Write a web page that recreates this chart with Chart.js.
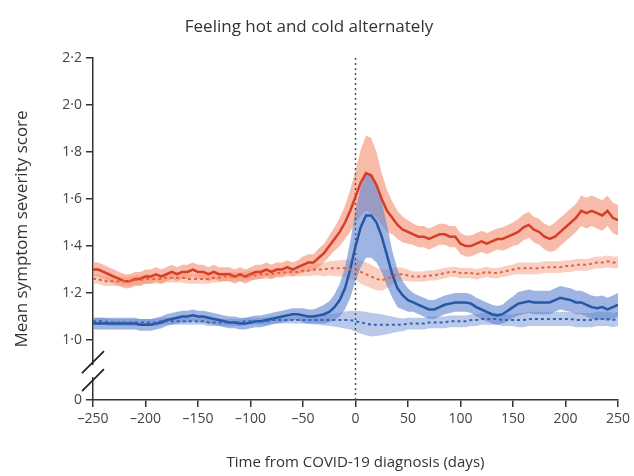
<!DOCTYPE html>
<html lang="en">
<head>
<meta charset="UTF-8">
<title>Feeling hot and cold alternately</title>
<script src="https://cdn.jsdelivr.net/npm/chart.js"></script>
<style>
    body { margin: 0; background: #ffffff; }
    #chart { display: block; }
</style>
</head>
<body>
<canvas id="chart" width="634" height="476"></canvas>
<script>
// days from COVID-19 diagnosis
const days = [
    -250, -245, -240, -235, -230, -225, -220, -215, -210, -205,
    -200, -195, -190, -185, -180, -175, -170, -165, -160, -155,
    -150, -145, -140, -135, -130, -125, -120, -115, -110, -105,
    -100, -95, -90, -85, -80, -75, -70, -65, -60, -55,
    -50, -45, -40, -35, -30, -25, -20, -15, -10, -5,
    0, 5, 10, 15, 20, 25, 30, 35, 40, 45, 50,
    55, 60, 65, 70, 75, 80, 85, 90, 95, 100,
    105, 110, 115, 120, 125, 130, 135, 140, 145, 150,
    155, 160, 165, 170, 175, 180, 185, 190, 195, 200,
    205, 210, 215, 220, 225, 230, 235, 240, 245, 250
];

// red solid line + half width of its band
const redSolid = [
    1.30, 1.30, 1.29, 1.28, 1.27, 1.26, 1.25, 1.25, 1.26, 1.26,
    1.27, 1.27, 1.28, 1.27, 1.28, 1.29, 1.28, 1.29, 1.29, 1.30,
    1.29, 1.29, 1.28, 1.29, 1.28, 1.28, 1.28, 1.27, 1.28, 1.27,
    1.28, 1.29, 1.29, 1.30, 1.29, 1.30, 1.30, 1.31, 1.30, 1.31,
    1.32, 1.33, 1.33, 1.35, 1.37, 1.40, 1.43, 1.46, 1.50, 1.55,
    1.61, 1.67, 1.71, 1.70, 1.66, 1.60, 1.55, 1.52, 1.49, 1.47, 1.46,
    1.45, 1.44, 1.44, 1.43, 1.44, 1.45, 1.45, 1.44, 1.44, 1.41,
    1.40, 1.40, 1.41, 1.42, 1.41, 1.42, 1.43, 1.43, 1.44, 1.45,
    1.46, 1.48, 1.49, 1.47, 1.46, 1.44, 1.43, 1.44, 1.46, 1.48,
    1.50, 1.52, 1.55, 1.54, 1.55, 1.54, 1.53, 1.55, 1.52, 1.51
];
const redSolidErr = [
    0.03, 0.03, 0.03, 0.03, 0.03, 0.03, 0.03, 0.03, 0.03, 0.03,
    0.03, 0.03, 0.03, 0.03, 0.03, 0.03, 0.03, 0.03, 0.03, 0.03,
    0.03, 0.03, 0.03, 0.03, 0.03, 0.03, 0.03, 0.03, 0.03, 0.03,
    0.03, 0.03, 0.03, 0.03, 0.03, 0.03, 0.03, 0.03, 0.03, 0.03,
    0.035, 0.035, 0.035, 0.04, 0.04, 0.045, 0.05, 0.06, 0.07, 0.09,
    0.11, 0.14, 0.16, 0.16, 0.14, 0.11, 0.09, 0.07, 0.06, 0.055, 0.05,
    0.045, 0.045, 0.045, 0.045, 0.045, 0.045, 0.045, 0.045, 0.045, 0.045,
    0.045, 0.045, 0.045, 0.045, 0.045, 0.045, 0.045, 0.05, 0.05, 0.05,
    0.055, 0.055, 0.055, 0.055, 0.055, 0.055, 0.055, 0.06, 0.06, 0.06,
    0.06, 0.06, 0.065, 0.065, 0.065, 0.065, 0.065, 0.065, 0.065, 0.065
];

// red dashed line + band
const redDashed = [
    1.26, 1.26, 1.25, 1.25, 1.25, 1.25, 1.25, 1.25, 1.255, 1.255,
    1.26, 1.26, 1.26, 1.26, 1.265, 1.265, 1.265, 1.265, 1.26, 1.26,
    1.26, 1.26, 1.26, 1.265, 1.265, 1.27, 1.27, 1.27, 1.27, 1.27,
    1.275, 1.275, 1.28, 1.28, 1.28, 1.285, 1.285, 1.29, 1.29, 1.29,
    1.295, 1.295, 1.30, 1.30, 1.30, 1.305, 1.305, 1.305, 1.305, 1.30,
    1.30, 1.29, 1.28, 1.27, 1.26, 1.255, 1.26, 1.27, 1.28, 1.28, 1.275,
    1.27, 1.27, 1.27, 1.275, 1.275, 1.28, 1.285, 1.29, 1.29, 1.285,
    1.285, 1.285, 1.28, 1.285, 1.29, 1.285, 1.285, 1.29, 1.295, 1.30,
    1.305, 1.305, 1.305, 1.305, 1.305, 1.31, 1.31, 1.31, 1.31, 1.315,
    1.315, 1.32, 1.32, 1.32, 1.325, 1.33, 1.33, 1.335, 1.33, 1.33
];
const redDashedErr = [
    0.02, 0.02, 0.02, 0.02, 0.02, 0.02, 0.02, 0.02, 0.02, 0.02,
    0.02, 0.02, 0.02, 0.02, 0.02, 0.02, 0.02, 0.02, 0.02, 0.02,
    0.02, 0.02, 0.02, 0.02, 0.02, 0.02, 0.02, 0.02, 0.02, 0.02,
    0.02, 0.02, 0.02, 0.02, 0.02, 0.02, 0.02, 0.02, 0.02, 0.02,
    0.022, 0.022, 0.025, 0.025, 0.028, 0.03, 0.032, 0.035, 0.038, 0.042,
    0.045, 0.05, 0.05, 0.05, 0.048, 0.045, 0.04, 0.035, 0.03, 0.028, 0.025,
    0.022, 0.022, 0.022, 0.022, 0.022, 0.022, 0.022, 0.022, 0.022, 0.022,
    0.022, 0.022, 0.022, 0.022, 0.022, 0.022, 0.022, 0.022, 0.022, 0.022,
    0.025, 0.025, 0.025, 0.025, 0.025, 0.025, 0.025, 0.025, 0.025, 0.025,
    0.025, 0.025, 0.025, 0.025, 0.025, 0.025, 0.025, 0.025, 0.025, 0.025
];

// blue solid line + band
const blueSolid = [
    1.07, 1.07, 1.07, 1.07, 1.07, 1.07, 1.07, 1.07, 1.07, 1.065,
    1.065, 1.065, 1.07, 1.075, 1.085, 1.09, 1.095, 1.10, 1.10, 1.105,
    1.10, 1.10, 1.095, 1.09, 1.085, 1.08, 1.075, 1.075, 1.07, 1.07,
    1.075, 1.08, 1.08, 1.085, 1.09, 1.095, 1.10, 1.105, 1.11, 1.11,
    1.105, 1.10, 1.10, 1.105, 1.11, 1.12, 1.14, 1.17, 1.22, 1.30,
    1.40, 1.48, 1.53, 1.53, 1.50, 1.44, 1.36, 1.28, 1.22, 1.19, 1.17,
    1.16, 1.15, 1.14, 1.13, 1.13, 1.14, 1.15, 1.155, 1.16, 1.16,
    1.16, 1.155, 1.14, 1.13, 1.12, 1.11, 1.105, 1.11, 1.125, 1.14,
    1.155, 1.16, 1.165, 1.16, 1.16, 1.16, 1.16, 1.17, 1.18, 1.175,
    1.17, 1.16, 1.16, 1.15, 1.14, 1.135, 1.14, 1.13, 1.14, 1.15
];
const blueSolidErr = [
    0.025, 0.025, 0.025, 0.025, 0.025, 0.025, 0.025, 0.025, 0.025, 0.025,
    0.025, 0.025, 0.025, 0.025, 0.025, 0.025, 0.025, 0.025, 0.025, 0.025,
    0.025, 0.025, 0.025, 0.025, 0.025, 0.025, 0.025, 0.025, 0.025, 0.025,
    0.025, 0.025, 0.025, 0.025, 0.025, 0.025, 0.025, 0.025, 0.025, 0.025,
    0.03, 0.03, 0.03, 0.035, 0.04, 0.045, 0.055, 0.07, 0.09, 0.12,
    0.15, 0.17, 0.18, 0.18, 0.17, 0.15, 0.13, 0.10, 0.08, 0.06, 0.05,
    0.04, 0.04, 0.04, 0.04, 0.04, 0.04, 0.04, 0.04, 0.04, 0.04,
    0.04, 0.04, 0.04, 0.04, 0.04, 0.04, 0.04, 0.04, 0.045, 0.045,
    0.05, 0.05, 0.05, 0.05, 0.05, 0.05, 0.05, 0.05, 0.05, 0.05,
    0.05, 0.05, 0.05, 0.05, 0.05, 0.05, 0.05, 0.05, 0.05, 0.05
];

// blue dashed line + band
const blueDashed = [
    1.08, 1.08, 1.08, 1.075, 1.075, 1.075, 1.075, 1.075, 1.075, 1.075,
    1.075, 1.075, 1.075, 1.08, 1.08, 1.08, 1.08, 1.08, 1.08, 1.08,
    1.08, 1.08, 1.075, 1.075, 1.075, 1.075, 1.075, 1.075, 1.075, 1.08,
    1.08, 1.08, 1.08, 1.08, 1.085, 1.085, 1.085, 1.085, 1.085, 1.085,
    1.085, 1.085, 1.085, 1.085, 1.085, 1.085, 1.085, 1.085, 1.085, 1.085,
    1.08, 1.075, 1.07, 1.065, 1.065, 1.065, 1.065, 1.065, 1.065, 1.065, 1.07,
    1.07, 1.07, 1.07, 1.075, 1.075, 1.075, 1.075, 1.08, 1.08, 1.08,
    1.08, 1.085, 1.085, 1.09, 1.09, 1.09, 1.09, 1.085, 1.085, 1.085,
    1.085, 1.085, 1.09, 1.09, 1.09, 1.09, 1.09, 1.09, 1.09, 1.09,
    1.09, 1.085, 1.085, 1.085, 1.085, 1.09, 1.09, 1.09, 1.085, 1.09
];
const blueDashedErr = [
    0.015, 0.015, 0.015, 0.015, 0.015, 0.015, 0.015, 0.015, 0.015, 0.015,
    0.015, 0.015, 0.015, 0.015, 0.015, 0.015, 0.015, 0.015, 0.015, 0.015,
    0.015, 0.015, 0.015, 0.015, 0.015, 0.015, 0.015, 0.015, 0.015, 0.015,
    0.015, 0.015, 0.015, 0.015, 0.015, 0.015, 0.015, 0.015, 0.015, 0.015,
    0.016, 0.017, 0.018, 0.02, 0.022, 0.025, 0.028, 0.032, 0.036, 0.04,
    0.045, 0.048, 0.05, 0.05, 0.048, 0.045, 0.04, 0.035, 0.03, 0.027, 0.025,
    0.025, 0.025, 0.025, 0.025, 0.025, 0.025, 0.025, 0.025, 0.025, 0.025,
    0.025, 0.025, 0.025, 0.025, 0.025, 0.025, 0.025, 0.025, 0.025, 0.025,
    0.03, 0.03, 0.03, 0.03, 0.03, 0.03, 0.03, 0.03, 0.03, 0.03,
    0.03, 0.03, 0.03, 0.03, 0.03, 0.03, 0.03, 0.03, 0.03, 0.03
];

// axis ticks (the y axis is broken between 0 and 1.0)
const xTicks = [-250, -200, -150, -100, -50, 0, 50, 100, 150, 200, 250];
const yBreakBottom = 0.745;   // where "0" sits on the broken axis
const yTicks = [0.745, 1.0, 1.2, 1.4, 1.6, 1.8, 2.0, 2.2];
const yTickLabels = ['0', '1·0', '1·2', '1·4', '1·6', '1·8', '2·0', '2·2'];
const yTop = 2.2;

const FONT = 'Open Sans';

function pts(vals, err, sign) {
    return days.map((d, i) => ({ x: d, y: err ? vals[i] + sign * err[i] : vals[i] }));
}

function band(vals, err, color, order) {
    return [
        { data: pts(vals, err, 1), borderWidth: 0, pointRadius: 0, fill: false, order: order },
        { data: pts(vals, err, -1), borderWidth: 0, pointRadius: 0, fill: '-1', backgroundColor: color, order: order }
    ];
}

function line(vals, color, width, dash) {
    return {
        data: pts(vals), borderColor: color, borderWidth: width, borderDash: dash || [],
        pointRadius: 0, fill: false, tension: 0, order: 0
    };
}

const datasets = [
    ...band(redSolid, redSolidErr, 'rgba(243,140,112,0.6)', 3),
    ...band(redDashed, redDashedErr, 'rgba(246,160,135,0.5)', 3),
    ...band(blueSolid, blueSolidErr, 'rgba(98,136,212,0.62)', 2),
    ...band(blueDashed, blueDashedErr, 'rgba(118,148,214,0.5)', 2),
    line(redDashed, '#e8633a', 2, [3, 3]),
    line(blueDashed, '#3563b0', 2, [3, 3]),
    line(redSolid, '#d63e28', 2.5),
    line(blueSolid, '#2557a5', 2.5),
    // dotted marker at the day of diagnosis
    {
        data: [{ x: 0, y: yBreakBottom }, { x: 0, y: yTop }],
        borderColor: '#555', borderWidth: 1.5, borderDash: [2, 3],
        pointRadius: 0, fill: false, order: 0
    }
];

// the two slashes on the y axis
const axisBreak = {
    id: 'axisBreak',
    afterDraw(chart) {
        const y = chart.scales.y;
        const ctx = chart.ctx;
        const x0 = y.right;
        const mid = (y.getPixelForValue(1.0) + y.bottom) / 2 + 1;
        ctx.save();
        ctx.fillStyle = '#fff';
        ctx.fillRect(x0 - 2, mid - 6, 4, 12);
        ctx.strokeStyle = '#222';
        ctx.lineWidth = 1.8;
        [-9, 9].forEach(off => {
            ctx.beginPath();
            ctx.moveTo(x0 - 11, mid + off + 11);
            ctx.lineTo(x0 + 11, mid + off - 11);
            ctx.stroke();
        });
        ctx.restore();
    }
};

new Chart(document.getElementById('chart'), {
    type: 'line',
    data: { datasets: datasets },
    plugins: [axisBreak],
    options: {
        responsive: false,
        animation: false,
        layout: { padding: { top: 0, right: 16, bottom: 0, left: 0 } },
        plugins: {
            legend: { display: false },
            tooltip: { enabled: false },
            title: {
                display: true,
                text: 'Feeling hot and cold alternately',
                color: '#333',
                font: { family: FONT, size: 17, weight: 'normal' },
                padding: { top: 17, bottom: 20.6 }
            }
        },
        scales: {
            x: {
                type: 'linear',
                min: -250, max: 250,
                afterBuildTicks: s => { s.ticks = xTicks.map(v => ({ value: v })); },
                afterFit: s => { s.height = 76; },
                border: { color: '#333', width: 1.5 },
                grid: { drawOnChartArea: false, tickLength: 7, color: '#333', lineWidth: 1.5 },
                ticks: {
                    color: '#444', padding: 4, maxRotation: 0,
                    font: { family: FONT, size: 14 },
                    callback: v => (v < 0 ? '–' + Math.abs(v) : String(v))
                },
                title: {
                    display: true, text: 'Time from COVID-19 diagnosis (days)', color: '#333',
                    font: { family: FONT, size: 15 }, padding: { top: 8 }
                }
            },
            y: {
                type: 'linear',
                min: yBreakBottom, max: yTop,
                afterBuildTicks: s => { s.ticks = yTicks.map(v => ({ value: v })); },
                afterFit: s => { s.width = 93; },
                border: { color: '#333', width: 1.5 },
                grid: { drawOnChartArea: false, tickLength: 7, color: '#333', lineWidth: 1.5 },
                ticks: {
                    color: '#444', padding: 4,
                    font: { family: FONT, size: 14 },
                    callback: (v, i) => yTickLabels[i]
                },
                title: {
                    display: true, text: 'Mean symptom severity score', color: '#333',
                    font: { family: FONT, size: 17 }, padding: { top: 12, bottom: 0 }
                }
            }
        }
    }
});
</script>
</body>
</html>
